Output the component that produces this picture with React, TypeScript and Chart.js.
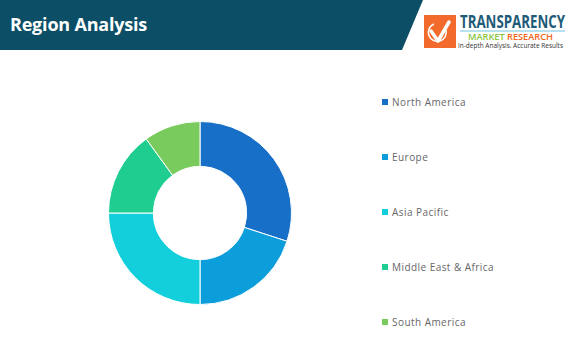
import React, { useEffect, useRef } from "react";
import { Chart, registerables } from "chart.js";

Chart.register(...registerables);

const title = "Region Analysis";
const categories = ["North America", "Europe", "Asia Pacific", "Middle East & Africa", "South America"];
const shares = [30, 20, 25, 15, 10];
const colors = ["#176fc8", "#0c9ddb", "#12cfdb", "#1ecd8f", "#7acb5e"];

export default function App() {
  const ref = useRef<HTMLCanvasElement>(null);

  useEffect(() => {
    if (!ref.current) return;
    const chart = new Chart(ref.current, {
      type: "doughnut",
      data: {
        labels: categories,
        datasets: [
          {
            data: shares,
            backgroundColor: colors,
            borderColor: "#ffffff",
            borderWidth: 1,
          },
        ],
      },
      options: {
        responsive: true,
        maintainAspectRatio: false,
        animation: false,
        cutout: "51%",
        layout: { padding: 0 },
        plugins: {
          legend: { display: false },
          tooltip: { enabled: false },
        },
      },
    });
    return () => chart.destroy();
  }, []);

  return (
    <div
      style={{
        position: "absolute",
        left: 0,
        top: 0,
        width: 569,
        height: 363,
        background: "#ffffff",
        overflow: "hidden",
        fontFamily: "'Open Sans', sans-serif",
      }}
    >
      {/* header bar */}
      <div
        style={{
          position: "absolute",
          left: 0,
          top: 0,
          width: 424,
          height: 50,
          background: "#0c4e66",
          clipPath: "polygon(0 0, 423px 0, 402px 50px, 0 50px)",
        }}
      />
      <div
        style={{
          position: "absolute",
          left: 10,
          top: 11,
          color: "#ffffff",
          fontWeight: 700,
          fontSize: 18,
          lineHeight: "26px",
          letterSpacing: -0.2,
        }}
      >
        {title}
      </div>

      {/* logo */}
      <svg
        style={{ position: "absolute", left: 420, top: 10 }}
        width={149}
        height={42}
        viewBox="0 0 149 42"
      >
        <rect x={4} y={5} width={32} height={33} fill="#f26b2c" />
        <path d="M11 21 L18 31 L29 12" fill="none" stroke="#ffffff" strokeWidth={3.5} strokeLinecap="round" strokeLinejoin="round" />
        <path d="M26 20 A9 9 0 1 1 14 14" fill="none" stroke="#ffffff" strokeWidth={1.5} />
        <g transform="scale(1,1.3)">
          <text
            x={40}
            y={18 / 1.3}
            fontFamily="'Open Sans', sans-serif"
            fontWeight={700}
            fontSize={13}
            fill="#1d5b78"
            textLength={105}
            lengthAdjust="spacingAndGlyphs"
          >
            TRANSPARENCY
          </text>
        </g>
        <line x1={40} y1={21} x2={145} y2={21} stroke="#6fc3e0" strokeWidth={1} />
        <text x={48} y={30} fontFamily="'Open Sans', sans-serif" fontWeight={600} fontSize={9} textLength={85} lengthAdjust="spacingAndGlyphs">
          <tspan fill="#8cc63f">MARKET </tspan>
          <tspan fill="#f26522">RESEARCH</tspan>
        </text>
        <g transform="scale(1,1.25)">
          <text
            x={38}
            y={38 / 1.25}
            fontFamily="'Open Sans', sans-serif"
            fontSize={5.5}
            fill="#333333"
            textLength={105}
            lengthAdjust="spacingAndGlyphs"
          >
            In-depth Analysis. Accurate Results
          </text>
        </g>
      </svg>

      {/* chart */}
      <div style={{ position: "absolute", left: 108, top: 121, width: 184, height: 184 }}>
        <canvas ref={ref} />
      </div>

      {/* legend */}
      {categories.map((c, i) => (
        <div
          key={c}
          style={{
            position: "absolute",
            left: 382,
            top: 102 + i * 55 - 7,
            height: 14,
            display: "flex",
            alignItems: "center",
            whiteSpace: "nowrap",
          }}
        >
          <span style={{ display: "inline-block", width: 6, height: 6, background: colors[i], marginRight: 4 }} />
          <span style={{ fontSize: 10, color: "#666666", letterSpacing: 0.45, lineHeight: "14px" }}>{c}</span>
        </div>
      ))}
    </div>
  );
}
